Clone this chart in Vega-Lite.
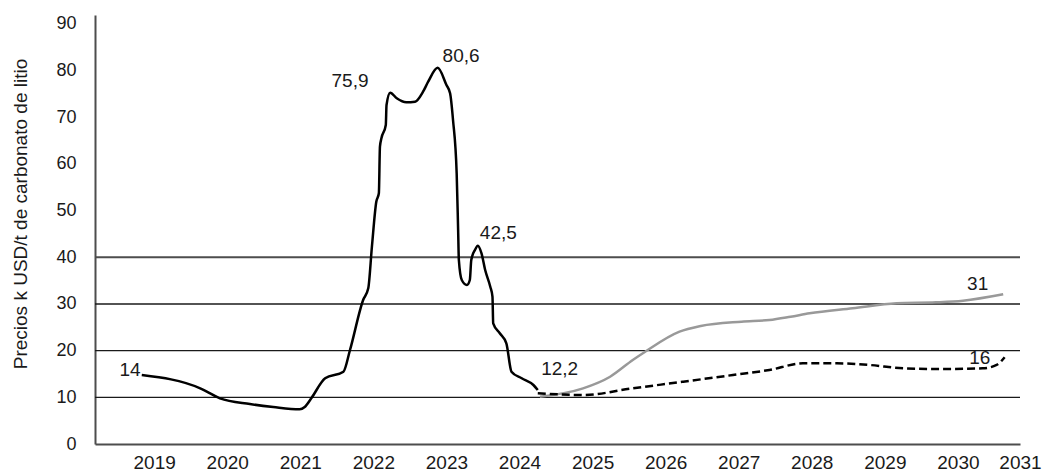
{
  "$schema": "https://vega.github.io/schema/vega-lite/v6.json",
  "width": 925,
  "height": 429,
  "autosize": {"type": "none"},
  "padding": {"left": 95, "top": 15, "right": 23, "bottom": 28},
  "background": "white",
  "config": {
    "view": {"stroke": null},
    "font": "Liberation Sans, Arial, sans-serif"
  },
  "datasets": {
    "hist": [
      {"year": 2018.83, "value": 14.78}, {"year": 2019.63, "value": 11.93}, {"year": 2019.90, "value": 9.79},
      {"year": 2020.31, "value": 8.57}, {"year": 2020.63, "value": 7.93}, {"year": 2020.99, "value": 7.44},
      {"year": 2021.06, "value": 7.93}, {"year": 2021.15, "value": 9.79}, {"year": 2021.34, "value": 14.08},
      {"year": 2021.59, "value": 15.49}, {"year": 2021.68, "value": 20.14}, {"year": 2021.86, "value": 30.86},
      {"year": 2021.93, "value": 33.36}, {"year": 2021.98, "value": 42.28}, {"year": 2022.04, "value": 51.92},
      {"year": 2022.075, "value": 53.72}, {"year": 2022.09, "value": 63.70}, {"year": 2022.11, "value": 65.50},
      {"year": 2022.17, "value": 68.35}, {"year": 2022.18, "value": 72.64}, {"year": 2022.23, "value": 75.27},
      {"year": 2022.32, "value": 74.07}, {"year": 2022.45, "value": 73.22}, {"year": 2022.57, "value": 73.35},
      {"year": 2022.68, "value": 75.49}, {"year": 2022.75, "value": 77.63}, {"year": 2022.88, "value": 80.6},
      {"year": 2023.00, "value": 76.92}, {"year": 2023.05, "value": 75.14}, {"year": 2023.09, "value": 69.42},
      {"year": 2023.14, "value": 58.0}, {"year": 2023.16, "value": 45.85}, {"year": 2023.17, "value": 39.43},
      {"year": 2023.21, "value": 35.14}, {"year": 2023.28, "value": 34.07}, {"year": 2023.32, "value": 35.14},
      {"year": 2023.34, "value": 39.43}, {"year": 2023.39, "value": 41.57}, {"year": 2023.43, "value": 42.5},
      {"year": 2023.48, "value": 40.86}, {"year": 2023.53, "value": 37.28}, {"year": 2023.60, "value": 33.71},
      {"year": 2023.63, "value": 31.57}, {"year": 2023.64, "value": 25.86}, {"year": 2023.73, "value": 23.72},
      {"year": 2023.82, "value": 21.57}, {"year": 2023.89, "value": 15.49}, {"year": 2024.03, "value": 14.08},
      {"year": 2024.19, "value": 12.64}, {"year": 2024.25, "value": 11.57}
    ],
    "base": [
      {"year": 2024.28, "value": 10.14}, {"year": 2024.87, "value": 11.93}, {"year": 2025.24, "value": 14.42},
      {"year": 2025.55, "value": 18.0}, {"year": 2025.72, "value": 19.78}, {"year": 2026.19, "value": 24.07},
      {"year": 2026.48, "value": 25.28}, {"year": 2027.04, "value": 26.21}, {"year": 2027.42, "value": 26.57},
      {"year": 2027.71, "value": 27.28}, {"year": 2027.97, "value": 28.0}, {"year": 2028.56, "value": 29.08},
      {"year": 2029.16, "value": 30.15}, {"year": 2029.70, "value": 30.36}, {"year": 2030.07, "value": 30.71},
      {"year": 2030.62, "value": 32.08}
    ],
    "low": [
      {"year": 2024.25, "value": 10.86}, {"year": 2024.87, "value": 10.50}, {"year": 2025.55, "value": 11.93},
      {"year": 2026.24, "value": 13.35}, {"year": 2026.92, "value": 14.78}, {"year": 2027.42, "value": 15.86},
      {"year": 2027.88, "value": 17.29}, {"year": 2028.34, "value": 17.29}, {"year": 2028.79, "value": 16.93},
      {"year": 2029.25, "value": 16.22}, {"year": 2029.70, "value": 16.07}, {"year": 2030.34, "value": 16.22},
      {"year": 2030.53, "value": 16.93}, {"year": 2030.64, "value": 18.58}
    ],
    "labels": [
      {"year": 2018.67, "value": 15.96, "text": "14"},
      {"year": 2021.68, "value": 77.82, "text": "75,9"},
      {"year": 2023.20, "value": 83.18, "text": "80,6"},
      {"year": 2023.71, "value": 45.15, "text": "42,5"},
      {"year": 2024.55, "value": 16.07, "text": "12,2"},
      {"year": 2030.27, "value": 34.28, "text": "31"},
      {"year": 2030.30, "value": 18.43, "text": "16"}
    ],
    "grid": [{"g": 10}, {"g": 20}, {"g": 30}],
    "grid40": [{"g": 40}]
  },
  "layer": [
    {
      "data": {"name": "grid"},
      "mark": {"type": "rule", "color": "#1a1a1a", "strokeWidth": 1.3},
      "encoding": {
        "y": {
          "field": "g", "type": "quantitative",
          "scale": {"domain": [0, 91.92], "nice": false, "zero": false},
          "axis": {
            "values": [0, 10, 20, 30, 40, 50, 60, 70, 80, 90],
            "grid": false, "ticks": false,
            "domainColor": "#4d4d4d", "domainWidth": 2,
            "labelFontSize": 18, "labelColor": "#1a1a1a", "labelPadding": 19,
            "title": "Precios k USD/t de carbonato de litio",
            "titleFontSize": 19, "titleFontWeight": "normal", "titleColor": "#1a1a1a",
            "titleX": -75, "titleY": 198.5, "titleAlign": "center", "titleBaseline": "middle"
          }
        }
      }
    },
    {
      "data": {"name": "grid40"},
      "mark": {"type": "rule", "color": "#4d4d4d", "strokeWidth": 2},
      "encoding": {"y": {"field": "g", "type": "quantitative"}}
    },
    {
      "data": {"name": "hist"},
      "mark": {"type": "line", "color": "#000000", "strokeWidth": 2.5, "interpolate": "monotone"},
      "encoding": {
        "x": {
          "field": "year", "type": "quantitative",
          "scale": {"domain": [2018.19, 2030.85], "nice": false, "zero": false},
          "axis": {
            "values": [2019, 2020, 2021, 2022, 2023, 2024, 2025, 2026, 2027, 2028, 2029, 2030, 2030.85],
            "format": "d", "grid": false, "ticks": false,
            "labelFlush": false, "labelOverlap": false,
            "domainColor": "#4d4d4d", "domainWidth": 2,
            "labelFontSize": 19, "labelColor": "#1a1a1a", "labelPadding": 9,
            "title": null
          }
        },
        "y": {"field": "value", "type": "quantitative"}
      }
    },
    {
      "data": {"name": "base"},
      "mark": {"type": "line", "color": "#999999", "strokeWidth": 2.5, "interpolate": "monotone"},
      "encoding": {
        "x": {"field": "year", "type": "quantitative"},
        "y": {"field": "value", "type": "quantitative"}
      }
    },
    {
      "data": {"name": "low"},
      "mark": {"type": "line", "color": "#000000", "strokeWidth": 2.5, "strokeDash": [8, 4], "interpolate": "monotone"},
      "encoding": {
        "x": {"field": "year", "type": "quantitative"},
        "y": {"field": "value", "type": "quantitative"}
      }
    },
    {
      "data": {"name": "labels"},
      "mark": {"type": "text", "fontSize": 19, "color": "#1a1a1a", "align": "center", "baseline": "middle"},
      "encoding": {
        "x": {"field": "year", "type": "quantitative"},
        "y": {"field": "value", "type": "quantitative"},
        "text": {"field": "text"}
      }
    }
  ]
}
